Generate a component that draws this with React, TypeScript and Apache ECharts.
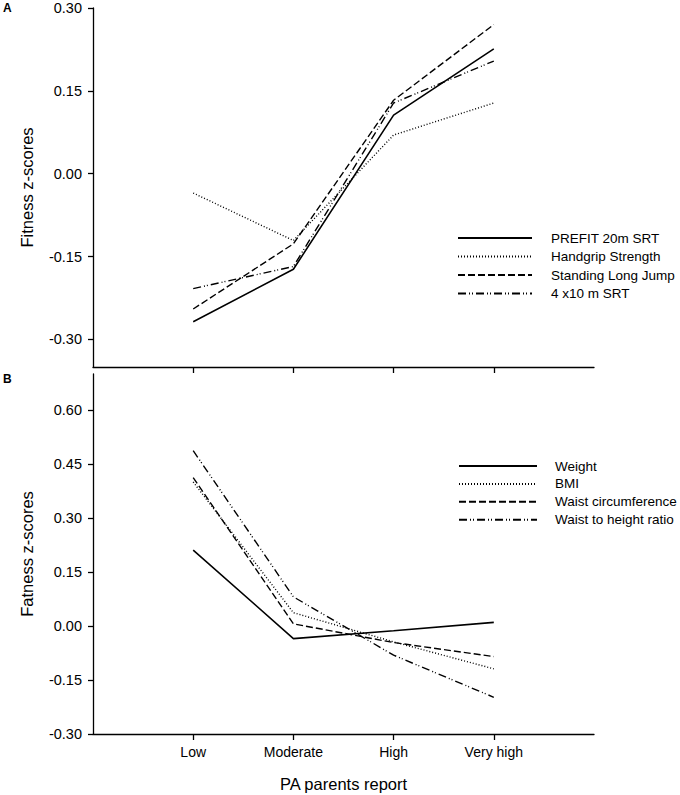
import React, { useEffect, useRef } from "react";
import * as echarts from "echarts";

const categories = ["Low", "Moderate", "High", "Very high"];

const fitnessNames = ["PREFIT 20m SRT", "Handgrip Strength", "Standing Long Jump", "4 x10 m SRT"];
const prefit20m = [-0.268, -0.173, 0.106, 0.226];
const handgrip = [-0.035, -0.121, 0.07, 0.128];
const longJump = [-0.245, -0.127, 0.133, 0.27];
const srt4x10 = [-0.208, -0.168, 0.128, 0.204];

const fatnessNames = ["Weight", "BMI", "Waist circumference", "Waist to height ratio"];
const weight = [0.211, -0.035, -0.013, 0.01];
const bmi = [0.4, 0.037, -0.044, -0.119];
const waist = [0.412, 0.006, -0.046, -0.085];
const waistHeight = [0.487, 0.081, -0.081, -0.198];

const fitnessTicks = [-0.3, -0.15, 0, 0.15, 0.3];
const fatnessTicks = [-0.3, -0.15, 0, 0.15, 0.3, 0.45, 0.6];

const FONT = "Liberation Sans, Arial, sans-serif";
const dashStyles: any[] = ["solid", [1, 2], [7, 3], [8, 3, 1, 2, 1, 3]];

export default function App() {
  const ref = useRef<HTMLDivElement>(null);
  useEffect(() => {
    if (!ref.current) return;
    const chart = echarts.init(ref.current, null, { renderer: "svg" });
    const xCats = ["", ...categories, ""];
    const pad = (arr: number[]) => ["-", ...arr, "-"];
    const mkSeries = (name: string, data: number[], idx: number, style: any) => ({
      name,
      type: "line",
      xAxisIndex: idx,
      yAxisIndex: idx,
      data: pad(data),
      symbol: "none",
      showSymbol: false,
      lineStyle: { color: "#000", width: style === "solid" ? 1.6 : 1.4, type: style },
      itemStyle: { color: "#000" },
    });
    const xAxisBase = (idx: number) => ({
      type: "category",
      gridIndex: idx,
      data: xCats,
      boundaryGap: false,
      axisLine: { onZero: false, lineStyle: { color: "#000", width: 1.3 } },
      axisTick: {
        show: true,
        length: 6,
        interval: (i: number) => i >= 1 && i <= 4,
        lineStyle: { color: "#000", width: 1.3 },
      },
      axisLabel: {
        show: idx === 1,
        interval: 0,
        color: "#000",
        fontSize: 14,
        fontFamily: FONT,
        margin: 11,
      },
      splitLine: { show: false },
    });
    const yAxisBase = (idx: number, min: number, max: number, ticks: number[], name: string) => ({
      type: "value",
      gridIndex: idx,
      min,
      max,
      name,
      nameLocation: "middle",
      nameGap: 58,
      nameTextStyle: { color: "#000", fontSize: 16.5, fontFamily: FONT },
      axisLine: { show: true, onZero: false, lineStyle: { color: "#000", width: 1.3 } },
      axisTick: { show: true, length: 5, customValues: ticks, lineStyle: { color: "#000", width: 1.3 } },
      axisLabel: {
        customValues: ticks,
        color: "#000",
        fontSize: 14.5,
        fontFamily: FONT,
        margin: 11,
        formatter: (v: number) => v.toFixed(2),
      },
      splitLine: { show: false },
    });
    const legendBase = (names: string[], left: number, top: number, w: number, pl: number, gap: number) => ({
      data: names,
      orient: "vertical",
      left,
      top,
      itemWidth: w,
      itemHeight: 12,
      itemGap: gap,
      selectedMode: false,
      itemStyle: { opacity: 0, borderWidth: 0 },
      textStyle: { color: "#000", fontSize: 13.5, fontFamily: FONT, lineHeight: 12, padding: [0, 0, 0, pl] },
    });
    chart.setOption({
      animation: false,
      backgroundColor: "#fff",
      grid: [
        { left: 93, top: 8, width: 501, height: 359 },
        { left: 93, top: 374, width: 501, height: 360 },
      ],
      xAxis: [
        xAxisBase(0),
        { ...xAxisBase(1), name: "PA parents report", nameLocation: "middle", nameGap: 41, nameTextStyle: { color: "#000", fontSize: 16.5, fontFamily: FONT } },
      ],
      yAxis: [
        yAxisBase(0, -0.35, 0.3, fitnessTicks, "Fitness z-scores"),
        yAxisBase(1, -0.3, 0.7, fatnessTicks, "Fatness z-scores"),
      ],
      legend: [
        legendBase(fitnessNames, 452, 226, 74, 14, 4.5),
        legendBase(fatnessNames, 453, 454, 78, 13, 3.9),
      ],
      graphic: [
        { type: "text", left: 3, top: 2, style: { text: "A", font: `bold 12px ${FONT}`, fill: "#000" } },
        { type: "text", left: 3, top: 373, style: { text: "B", font: `bold 12px ${FONT}`, fill: "#000" } },
      ],
      series: [
        mkSeries(fitnessNames[0], prefit20m, 0, dashStyles[0]),
        mkSeries(fitnessNames[1], handgrip, 0, dashStyles[1]),
        mkSeries(fitnessNames[2], longJump, 0, dashStyles[2]),
        mkSeries(fitnessNames[3], srt4x10, 0, dashStyles[3]),
        mkSeries(fatnessNames[0], weight, 1, dashStyles[0]),
        mkSeries(fatnessNames[1], bmi, 1, dashStyles[1]),
        mkSeries(fatnessNames[2], waist, 1, dashStyles[2]),
        mkSeries(fatnessNames[3], waistHeight, 1, dashStyles[3]),
      ],
    });
    return () => chart.dispose();
  }, []);
  return (
    <div
      ref={ref}
      style={{ position: "fixed", left: 0, top: 0, width: 680, height: 795, background: "#fff" }}
    />
  );
}
